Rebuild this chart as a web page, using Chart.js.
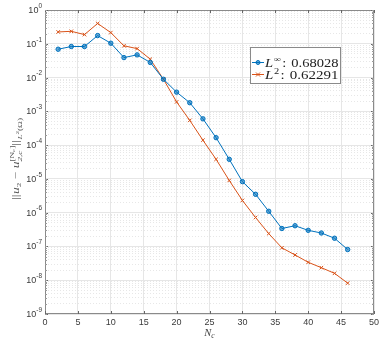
<!DOCTYPE html>
<html>
<head>
<meta charset="utf-8">
<script src="https://cdn.jsdelivr.net/npm/chart.js@4.4.1/dist/chart.umd.min.js"></script>
<style>
  html, body { margin: 0; padding: 0; background: #fff; }
  canvas { display: block; }
</style>
</head>
<body>
<canvas id="chart" width="379" height="340"></canvas>
<script>
// number of coarse modes
const nc = [2, 4, 6, 8, 10, 12, 14, 16, 18, 20, 22, 24, 26, 28, 30, 32, 34, 36, 38, 40, 42, 44, 46]
// error in L-infinity and L2 norms
const errLinf = [0.069, 0.083, 0.083, 0.175, 0.104, 0.039, 0.047, 0.028, 0.0089, 0.0037, 0.0018, 6.0e-4, 1.66e-4,
  3.8e-5, 8.3e-6, 3.5e-6, 1.1e-6, 3.4e-7, 4.1e-7, 3.0e-7, 2.5e-7, 1.75e-7, 8.1e-8]
const errL2 = [0.224, 0.234, 0.187, 0.40, 0.214, 0.087, 0.072, 0.035, 0.0089, 0.0019, 5.4e-4, 1.4e-4, 3.8e-5,
  9.0e-6, 2.3e-6, 7.2e-7, 2.4e-7, 9.1e-8, 5.6e-8, 3.4e-8, 2.35e-8, 1.6e-8, 8.2e-9]
const seriesNorms = ['\u221E', '2']
const seriesRates = ['0.68028', '0.62291']
const xTicks = [0, 5, 10, 15, 20, 25, 30, 35, 40, 45, 50]
const yExps = [0, -1, -2, -3, -4, -5, -6, -7, -8, -9]

const BLUE = '#0072BD'
const ORANGE = '#D95319'
const SANS = '"Liberation Sans", Arial, sans-serif'
const SERIF = '"Liberation Serif", "DejaVu Serif", serif'

const yTicks = yExps.map(e => Math.pow(10, e))
const yMinor = []
for (let e = -9; e < 0; e++) {
  for (let k = 1; k <= 9; k++) yMinor.push(k * Math.pow(10, e))
}
yMinor.push(1)

/**
 * Draws a list of text runs one after another (used for the math-like labels).
 * Returns the total width.
 */
function drawRuns (ctx, runs, x, y, measureOnly) {
  let cx = x
  for (const r of runs) {
    if (r.stack) {
      let w = 0
      for (const part of r.stack) {
        w = Math.max(w, drawRuns(ctx, part, cx, y, measureOnly))
      }
      cx += w
      continue
    }
    ctx.font = (r.italic ? 'italic ' : '') + r.size + 'px ' + SERIF
    const w = ctx.measureText(r.text).width
    if (!measureOnly) ctx.fillText(r.text, cx, y + (r.dy || 0))
    cx += w + (r.gap || 0)
  }
  return cx - x
}

const decorations = {
  id: 'decorations',
  afterDraw (chart) {
    const ctx = chart.ctx
    const area = chart.chartArea
    const xs = chart.scales.x
    const ys = chart.scales.y
    ctx.save()

    // axes box
    ctx.strokeStyle = '#8a8a8a'
    ctx.lineWidth = 1
    ctx.strokeRect(Math.round(area.left) + 0.5, Math.round(area.top) + 0.5,
      Math.round(area.right - area.left) - 1, Math.round(area.bottom - area.top) - 1)

    // inward tick marks
    ctx.strokeStyle = '#666'
    ctx.beginPath()
    xTicks.forEach(v => {
      const px = Math.round(xs.getPixelForValue(v)) + 0.5
      ctx.moveTo(px, area.bottom); ctx.lineTo(px, area.bottom - 3)
      ctx.moveTo(px, area.top); ctx.lineTo(px, area.top + 3)
    })
    yTicks.forEach(v => {
      const py = Math.round(ys.getPixelForValue(v)) + 0.5
      ctx.moveTo(area.left, py); ctx.lineTo(area.left + 3, py)
      ctx.moveTo(area.right, py); ctx.lineTo(area.right - 3, py)
    })
    ctx.stroke()
    ctx.strokeStyle = '#9a9a9a'
    ctx.beginPath()
    yMinor.forEach(v => {
      const py = Math.round(ys.getPixelForValue(v)) + 0.5
      ctx.moveTo(area.left, py); ctx.lineTo(area.left + 2, py)
      ctx.moveTo(area.right, py); ctx.lineTo(area.right - 2, py)
    })
    ctx.stroke()

    // y tick labels 10^e
    ctx.fillStyle = '#3a3a3a'
    ctx.textBaseline = 'middle'
    yExps.forEach(e => {
      const py = ys.getPixelForValue(Math.pow(10, e))
      ctx.font = '9px ' + SANS
      const wb = ctx.measureText('10').width
      ctx.font = '6.5px ' + SANS
      const expTxt = e === 0 ? '0' : '-' + Math.abs(e)
      const we = ctx.measureText(expTxt).width
      const x0 = area.left - 3 - wb - we
      ctx.font = '9px ' + SANS
      ctx.fillText('10', x0, py + 0.5)
      ctx.font = '6.5px ' + SANS
      ctx.fillText(expTxt, x0 + wb, py - 4)
    })

    // x tick labels
    ctx.font = '9px ' + SANS
    ctx.textAlign = 'center'
    xTicks.forEach(v => {
      ctx.fillText(String(v), xs.getPixelForValue(v), area.bottom + 9)
    })

    // x axis title N_c
    ctx.textAlign = 'left'
    ctx.textBaseline = 'alphabetic'
    ctx.fillStyle = '#444'
    const xt = [
      { text: 'N', size: 10.5, italic: true },
      { text: 'c', size: 7.5, italic: true, dy: 2 }
    ]
    const xtw = drawRuns(ctx, xt, 0, 0, true)
    drawRuns(ctx, xt, (area.left + area.right) / 2 - xtw / 2, 335.5)

    // y axis title ||u_2 - u_{2,c}^{[N_c]}||_{L^2(Omega)}
    ctx.fillStyle = '#555'
    const yt = [
      { text: '||', size: 9.5, gap: 0.5 },
      { text: 'u', size: 9.5, italic: true },
      { text: '2', size: 6.5, dy: 2 },
      { text: ' \u2212 ', size: 9.5 },
      { text: 'u', size: 9.5, italic: true },
      {
        stack: [
          [{ text: '[N', size: 6.5, dy: -5 }, { text: 'c', size: 5, italic: true, dy: -4 }, { text: ']', size: 6.5, dy: -5 }],
          [{ text: '2,c', size: 6.5, dy: 3, italic: true }]
        ]
      },
      { text: '||', size: 9.5, gap: 0.5 },
      { text: 'L', size: 6.5, italic: true, dy: 3 },
      { text: '2', size: 5, dy: 0 },
      { text: '(\u03A9)', size: 6.5, dy: 3 }
    ]
    const ytw = drawRuns(ctx, yt, 0, 0, true)
    ctx.translate(19, 159)
    ctx.rotate(-Math.PI / 2)
    ctx.scale(82 / ytw, 1)
    drawRuns(ctx, yt, -ytw / 2, 0)
    ctx.setTransform(1, 0, 0, 1, 0, 0)

    // legend
    const lx = Math.round(area.left + 0.6226 * (area.right - area.left)) + 0.5
    const lr = Math.round(area.left + 0.8976 * (area.right - area.left)) + 0.5
    const lt = Math.round(area.top + 0.123 * (area.bottom - area.top)) + 0.5
    const lb = Math.round(area.top + 0.24 * (area.bottom - area.top)) + 0.5
    ctx.fillStyle = '#fff'
    ctx.fillRect(lx, lt, lr - lx, lb - lt)
    ctx.strokeStyle = '#8a8a8a'
    ctx.lineWidth = 1
    ctx.strokeRect(lx, lt, lr - lx, lb - lt)
    const colors = [BLUE, ORANGE]
    const rowY = [lt + 14, lt + 26]
    colors.forEach((c, i) => {
      const yy = Math.round(rowY[i]) + 0.5
      ctx.strokeStyle = c
      ctx.lineWidth = 1
      ctx.beginPath()
      ctx.moveTo(lx + 1.5, yy); ctx.lineTo(lx + 13.5, yy)
      ctx.stroke()
      if (i === 0) {
        ctx.fillStyle = 'rgba(0,114,189,0.6)'
        ctx.beginPath(); ctx.arc(lx + 7.5, yy, 2, 0, Math.PI * 2); ctx.fill(); ctx.stroke()
      } else {
        ctx.beginPath()
        ctx.moveTo(lx + 5.5, yy - 2); ctx.lineTo(lx + 9.5, yy + 2)
        ctx.moveTo(lx + 5.5, yy + 2); ctx.lineTo(lx + 9.5, yy - 2)
        ctx.stroke()
      }
      ctx.fillStyle = '#222'
      const runs = [
        { text: 'L', size: 11.5, italic: true, gap: 0.5 },
        { text: seriesNorms[i], size: 8, dy: -5, gap: 1 },
        { text: ':', size: 11.5, gap: 4 },
        { text: seriesRates[i], size: 11.5 }
      ]
      const tw = drawRuns(ctx, runs, 0, 0, true)
      const tx = lx + 14.5
      ctx.save()
      ctx.translate(tx, yy + 4)
      ctx.scale((lr - 2 - tx) / tw, 1)
      drawRuns(ctx, runs, 0, 0)
      ctx.restore()
    })
    ctx.restore()
  }
}

const ctx = document.getElementById('chart').getContext('2d')
const myChart = new Chart(ctx, {
  type: 'line',
  data: {
    labels: nc,
    datasets: [{
      label: 'Linf',
      data: nc.map((n, i) => ({ x: n, y: errLinf[i] })),
      borderColor: BLUE,
      backgroundColor: 'rgba(0,114,189,0.6)',
      borderWidth: 1,
      pointStyle: 'circle',
      pointRadius: 2.2,
      pointBorderWidth: 1,
      tension: 0
    }, {
      label: 'L2',
      data: nc.map((n, i) => ({ x: n, y: errL2[i] })),
      borderColor: ORANGE,
      backgroundColor: ORANGE,
      borderWidth: 1,
      pointStyle: 'crossRot',
      pointRadius: 2.5,
      pointBorderWidth: 1,
      tension: 0
    }]
  },
  options: {
    responsive: false,
    animation: false,
    devicePixelRatio: 1,
    layout: { padding: { top: 10, right: 2, left: 0, bottom: 0 } },
    plugins: { legend: { display: false }, tooltip: { enabled: false } },
    scales: {
      yMinor: {
        type: 'logarithmic',
        position: 'left',
        min: 1e-9,
        max: 1,
        ticks: { display: false },
        grid: { color: '#dcdcdc', drawTicks: false, lineWidth: 0.7 },
        border: { display: false, dash: [1, 2] },
        afterBuildTicks (scale) { scale.ticks = yMinor.map(v => ({ value: v })) },
        afterFit (scale) { scale.width = 0 }
      },
      x: {
        type: 'linear',
        position: 'bottom',
        min: 0,
        max: 50,
        ticks: { display: false },
        grid: { color: '#e6e6e6', drawTicks: false },
        border: { display: false },
        afterBuildTicks (scale) { scale.ticks = xTicks.map(v => ({ value: v })) },
        afterFit (scale) { scale.height = 26 }
      },
      y: {
        type: 'logarithmic',
        position: 'left',
        min: 1e-9,
        max: 1,
        ticks: { display: false },
        grid: { color: '#e6e6e6', drawTicks: false },
        border: { display: false },
        afterBuildTicks (scale) { scale.ticks = yTicks.map(v => ({ value: v })) },
        afterFit (scale) { scale.width = 45 }
      }
    }
  },
  plugins: [decorations]
})
</script>
</body>
</html>
